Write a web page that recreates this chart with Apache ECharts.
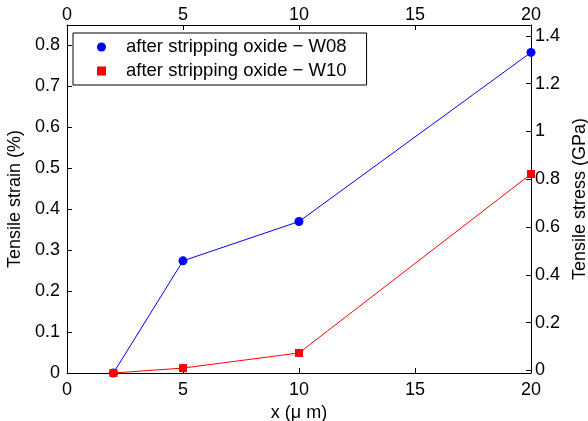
<!DOCTYPE html>
<html>
<head>
<meta charset="utf-8">
<script src="https://cdn.jsdelivr.net/npm/echarts@6/dist/echarts.min.js"></script>
<style>html,body{margin:0;padding:0;background:#fff}#c{width:588px;height:421px}</style>
</head>
<body>
<div id="c"></div>
<script>
var xValues = [2, 5, 10, 20];
var w08Strain = [0, 0.274, 0.370, 0.783];
var w10Strain = [0, 0.012, 0.049, 0.486];
var seriesNames = ['after stripping oxide \u2212 W08', 'after stripping oxide \u2212 W10'];
var xTicks = [0, 5, 10, 15, 20];
var leftTicks = [0, 0.1, 0.2, 0.3, 0.4, 0.5, 0.6, 0.7, 0.8];
var rightTicks = [0, 0.2, 0.4, 0.6, 0.8, 1, 1.2, 1.4];

var FONT = 'Liberation Sans';
var chart = echarts.init(document.getElementById('c'));
function pairs(xs, ys){ return xs.map(function(x,i){ return [x, ys[i]]; }); }
function fmt(v){ return String(Math.round(v*10)/10); }
var axLine = {color:'#000', width:1};
chart.setOption({
  animation:false,
  backgroundColor:'#fff',
  textStyle:{fontFamily:FONT},
  grid:{left:67, right:57, top:25, bottom:48, containLabel:false, outerBoundsMode:'none'},
  legend:{
    left:73, top:33,
    orient:'vertical', itemGap:4, padding:[4,20,4,24],
    borderColor:'#000', borderWidth:1, backgroundColor:'#fff',
    itemWidth:9, itemHeight:9,
    textStyle:{fontFamily:FONT, fontSize:18.5, lineHeight:20, color:'#000', padding:[0,0,0,15]},
    data:[{name:seriesNames[0], icon:'circle'},{name:seriesNames[1], icon:'rect'}]
  },
  xAxis:[
    {type:'value', position:'bottom', min:0, max:20, interval:5,
     name:'x (\u03bc m)', nameLocation:'middle', nameGap:30,
     nameTextStyle:{fontFamily:FONT, fontSize:18, color:'#000'},
     axisLine:{show:true, onZero:false, lineStyle:axLine},
     axisTick:{show:true, inside:true, length:5, lineStyle:axLine},
     axisLabel:{fontFamily:FONT, fontSize:18, color:'#000', margin:8, customValues:xTicks},
     splitLine:{show:false}},
    {type:'value', position:'top', min:0, max:20, interval:5,
     axisLine:{show:true, onZero:false, lineStyle:axLine},
     axisTick:{show:true, inside:true, length:5, lineStyle:axLine},
     axisLabel:{fontFamily:FONT, fontSize:18, color:'#000', margin:1},
     splitLine:{show:false}}
  ],
  yAxis:[
    {type:'value', position:'left', min:0, max:0.85,
     name:'Tensile strain (%)', nameLocation:'middle', nameGap:43, nameRotate:90,
     nameTextStyle:{fontFamily:FONT, fontSize:18, color:'#000'},
     axisLine:{show:true, onZero:false, lineStyle:axLine},
     axisTick:{show:true, inside:true, length:5, lineStyle:axLine, customValues:leftTicks},
     axisLabel:{fontFamily:FONT, fontSize:18, color:'#000', margin:7, customValues:leftTicks, formatter:fmt},
     splitLine:{show:false}},
    {type:'value', position:'right', min:-0.011, max:1.445,
     name:'Tensile stress (GPa)', nameLocation:'middle', nameGap:40, nameRotate:90,
     nameTextStyle:{fontFamily:FONT, fontSize:18, color:'#000'},
     axisLine:{show:true, onZero:false, lineStyle:axLine},
     axisTick:{show:true, inside:true, length:5, lineStyle:axLine, customValues:rightTicks},
     axisLabel:{fontFamily:FONT, fontSize:18, color:'#000', margin:4, customValues:rightTicks, formatter:fmt},
     splitLine:{show:false}}
  ],
  series:[
    {name:seriesNames[0], type:'line', xAxisIndex:0, yAxisIndex:0, data:pairs(xValues, w08Strain),
     symbol:'circle', symbolSize:9, itemStyle:{color:'#0000ff'}, lineStyle:{color:'#0000ff', width:1}, z:2},
    {name:seriesNames[1], type:'line', xAxisIndex:0, yAxisIndex:0, data:pairs(xValues, w10Strain),
     symbol:'rect', symbolSize:8, itemStyle:{color:'#ff0000'}, lineStyle:{color:'#ff0000', width:1}, z:3}
  ]
});
</script>
</body>
</html>
